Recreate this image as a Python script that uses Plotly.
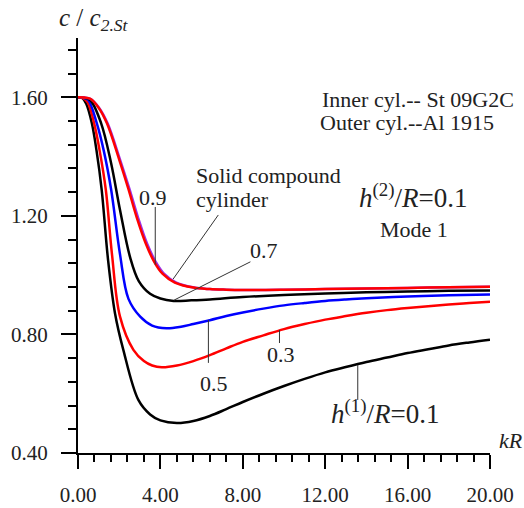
import plotly.graph_objects as go

# ---- data ----
x_h01 = [0, 0.2, 0.4, 0.67, 0.9, 1.15, 1.46, 1.8, 2.2, 2.93, 3.5, 4.0, 4.8, 5.6, 6.4, 7.2, 8, 9, 10, 11, 12, 13, 14, 15, 16, 17, 18, 19, 20]
y_h01 = [1.60, 1.598, 1.578, 1.513, 1.42, 1.288, 1.051, 0.87, 0.748, 0.579, 0.53, 0.51, 0.501, 0.508, 0.525, 0.548, 0.572, 0.60, 0.626, 0.65, 0.672, 0.69, 0.707, 0.722, 0.737, 0.75, 0.763, 0.773, 0.782]

x_h03 = [0, 0.2, 0.45, 0.78, 1.05, 1.35, 1.65, 2.04, 2.69, 3.2, 3.6, 4.07, 4.8, 5.6, 6.4, 7.2, 8, 9, 10, 11, 12, 13, 14, 15, 16, 17, 18, 19, 20]
y_h03 = [1.60, 1.598, 1.585, 1.513, 1.42, 1.288, 1.07, 0.86, 0.748, 0.71, 0.695, 0.689, 0.695, 0.71, 0.73, 0.753, 0.775, 0.797, 0.818, 0.835, 0.85, 0.862, 0.873, 0.882, 0.889, 0.895, 0.901, 0.906, 0.91]

x_h05 = [0, 0.25, 0.5, 0.91, 1.25, 1.61, 2.04, 2.45, 3.02, 3.6, 4.3, 5, 5.6, 6.4, 7.2, 8, 9, 10, 11, 12, 13, 14, 16, 18, 20]
y_h05 = [1.60, 1.598, 1.59, 1.513, 1.42, 1.288, 1.07, 0.92, 0.86, 0.83, 0.821, 0.826, 0.835, 0.848, 0.862, 0.874, 0.887, 0.898, 0.906, 0.913, 0.918, 0.922, 0.928, 0.932, 0.935]

x_h07 = [0, 0.3, 0.6, 1.12, 1.6, 2.04, 2.53, 2.95, 3.5, 4.0, 4.64, 5.5, 6.4, 8, 10, 12, 14, 16, 18, 20]
y_h07 = [1.60, 1.598, 1.59, 1.513, 1.38, 1.22, 1.06, 0.98, 0.937, 0.921, 0.913, 0.915, 0.918, 0.926, 0.933, 0.938, 0.942, 0.945, 0.947, 0.948]

x_h09 = [0, 0.3, 0.6, 1.0, 1.40, 2.0, 2.45, 2.85, 3.3, 3.7, 4.1, 4.7, 5.6, 6.4, 7.2, 8, 10, 12, 14, 16, 18, 20]
y_h09 = [1.60, 1.599, 1.595, 1.565, 1.513, 1.39, 1.29, 1.195, 1.105, 1.045, 1.005, 0.975, 0.958, 0.953, 0.951, 0.95, 0.951, 0.953, 0.955, 0.957, 0.959, 0.961]

x_solid = [0, 0.3, 0.6, 1.02, 1.43, 2.04, 2.50, 2.91, 3.36, 3.77, 4.17, 4.77, 5.65, 6.4, 7.2, 8, 10, 12, 14, 16, 18, 20]
y_solid = [1.60, 1.599, 1.595, 1.565, 1.513, 1.39, 1.29, 1.195, 1.105, 1.045, 1.005, 0.975, 0.958, 0.953, 0.951, 0.95, 0.951, 0.953, 0.955, 0.957, 0.959, 0.961]

x_ticks = [0, 4, 8, 12, 16, 20]
y_ticks = [0.4, 0.8, 1.2, 1.6]

FONT = "Liberation Serif"
TXT = "#222222"

fig = go.Figure()
series = [
    (x_h01, y_h01, "black"),
    (x_h03, y_h03, "#ff0000"),
    (x_h05, y_h05, "#0000ff"),
    (x_h07, y_h07, "black"),
    (x_solid, y_solid, "#9b30e8"),
    (x_h09, y_h09, "#ff0000"),
]
for xs, ys, c in series:
    fig.add_trace(go.Scatter(x=xs, y=ys, mode="lines",
                             line=dict(color=c, width=2.5, shape="spline", smoothing=1.0),
                             showlegend=False, hoverinfo="skip"))

# leader lines
leaders = [
    (3.75, 1.230, 3.75, 1.035),
    (6.81, 1.203, 4.62, 0.987),
    (8.37, 1.045, 4.67, 0.916),
    (6.33, 0.849, 6.33, 0.704),
    (9.78, 0.815, 9.78, 0.771),
    (13.58, 0.697, 13.58, 0.579),
]
for x0, y0, x1, y1 in leaders:
    fig.add_shape(type="line", x0=x0, y0=y0, x1=x1, y1=y1, xref="x", yref="y",
                  line=dict(color="#333333", width=1))

def ann(x, y, text, size=22, xanchor="center", ref="data"):
    r = "paper" if ref == "paper" else None
    fig.add_annotation(x=x, y=y, xref=r or "x", yref=r or "y", text=text, showarrow=False,
                       xanchor=xanchor, yanchor="middle",
                       font=dict(family=FONT, size=size, color=TXT))

ann(3.65, 1.261, "0.9")
ann(5.65, 1.335, "Solid compound", xanchor="left")
ann(5.65, 1.254, "cylinder", xanchor="left")
ann(9.05, 1.082, "0.7")
ann(6.62, 0.636, "0.5")
ann(9.83, 0.731, "0.3")
ann(14.94, 0.538, "<i>h</i><sup>(1)</sup>/<i>R</i>=0.1", size=27)
ann(16.3, 1.267, "<i>h</i><sup>(2)</sup>/<i>R</i>=0.1", size=27)
ann(16.3, 1.153, "Mode 1")
ann(11.75, 1.592, "Inner cyl.-- St 09G2C", xanchor="left")
ann(11.65, 1.514, "Outer cyl.--Al 1915", xanchor="left")
# axis titles (outside the plotting area -> paper coordinates)
ann(-0.05, 1.045, "<i>c</i> / <i>c</i><sub><i>2.St</i></sub>", size=25, xanchor="left", ref="paper")
ann(1.05, 0.031, "<i>kR</i>", size=22, ref="paper")

fig.update_layout(
    width=524, height=508,
    margin=dict(l=78, r=34, t=38, b=55),
    paper_bgcolor="white", plot_bgcolor="white",
    font=dict(family=FONT, size=21, color=TXT),
    xaxis=dict(range=[0, 20], tickvals=x_ticks, tickformat=".2f", automargin=False,
               showgrid=False, zeroline=False, showline=True, linecolor="black", linewidth=2,
               ticks="outside", ticklen=14, tickwidth=2, tickcolor="black",
               ticklabelstandoff=8,
               minor=dict(dtick=0.8, tick0=0, ticks="outside", ticklen=7, tickwidth=2, tickcolor="black"),
               tickfont=dict(family=FONT, size=21, color=TXT)),
    yaxis=dict(range=[0.4, 1.8], tickvals=y_ticks, tickformat=".2f", automargin=False,
               showgrid=False, zeroline=False, showline=True, linecolor="black", linewidth=2,
               ticks="outside", ticklen=15, tickwidth=2, tickcolor="black",
               ticklabelstandoff=9,
               minor=dict(dtick=0.08, tick0=0.4, ticks="outside", ticklen=8, tickwidth=2, tickcolor="black"),
               tickfont=dict(family=FONT, size=21, color=TXT)),
)

# remove the default 8px page margin so the 524x508 figure fills the window exactly
fig.write_html("out.html",
               config={"displayModeBar": False},
               post_script="document.body.style.margin='0';document.body.style.overflow='hidden';")
